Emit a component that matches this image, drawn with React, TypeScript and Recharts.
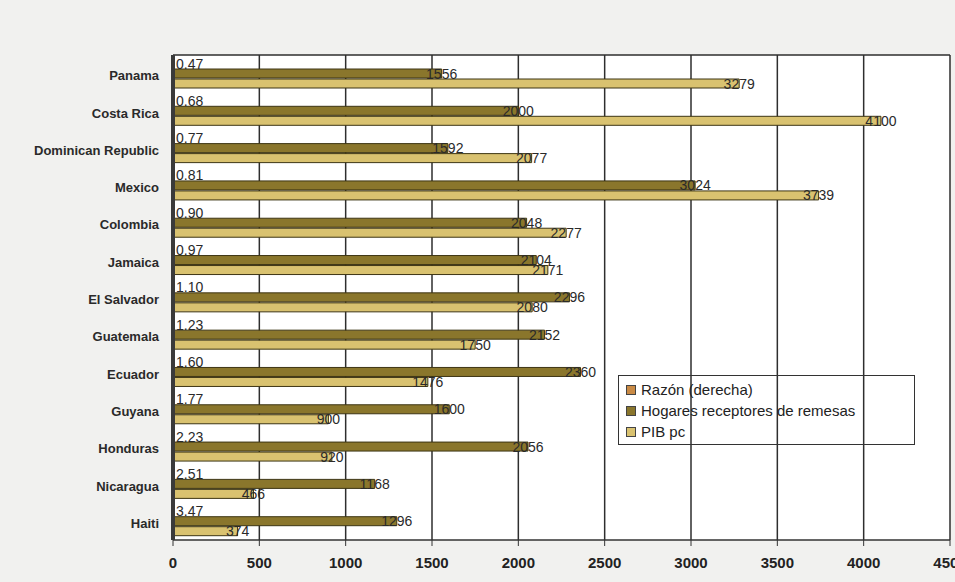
import React from "react";
import {
  Bar,
  BarChart,
  CartesianGrid,
  LabelList,
  XAxis,
  YAxis,
} from "recharts";

const countries = [
  "Panama",
  "Costa Rica",
  "Dominican Republic",
  "Mexico",
  "Colombia",
  "Jamaica",
  "El Salvador",
  "Guatemala",
  "Ecuador",
  "Guyana",
  "Honduras",
  "Nicaragua",
  "Haiti",
];
const razon = [0.47, 0.68, 0.77, 0.81, 0.9, 0.97, 1.1, 1.23, 1.6, 1.77, 2.23, 2.51, 3.47];
const hogares = [1556, 2000, 1592, 3024, 2048, 2104, 2296, 2152, 2360, 1600, 2056, 1168, 1296];
const pib = [3279, 4100, 2077, 3739, 2277, 2171, 2080, 1750, 1476, 900, 920, 466, 374];
const xTicks = [0, 500, 1000, 1500, 2000, 2500, 3000, 3500, 4000, 4500];

const data = countries.map((name, i) => ({
  name,
  razon: razon[i],
  hogares: hogares[i],
  pib: pib[i],
}));

const FONT = "'Liberation Sans', Arial, sans-serif";
const C_RAZON = "#c98a45";
const C_HOG = "#8a762c";
const C_PIB = "#d9c270";
const EDGE = "#3d3514";

const series = [
  { key: "razon", name: "Razón (derecha)", color: C_RAZON },
  { key: "hogares", name: "Hogares receptores de remesas", color: C_HOG },
  { key: "pib", name: "PIB pc", color: C_PIB },
];

// value labels centred over the bar end, like the scanned original
function EndLabel(props: any) {
  const { x, y, width, height, value } = props;
  return (
    <text
      x={x + width}
      y={y + height / 2 + 5}
      textAnchor="middle"
      fontFamily={FONT}
      fontSize={14}
      fill="#2a2a2a"
    >
      {value}
    </text>
  );
}

function RazonLabel(props: any) {
  const { x, y, height, value } = props;
  return (
    <text
      x={x + 3}
      y={y + height / 2 + 5}
      fontFamily={FONT}
      fontSize={14}
      fill="#2a2a2a"
    >
      {Number(value).toFixed(2)}
    </text>
  );
}

function LegendBox() {
  return (
    <div
      style={{
        position: "absolute",
        left: 618,
        top: 375,
        width: 297,
        height: 70,
        border: "1px solid #333",
        boxSizing: "border-box",
        padding: "3px 0 0 7px",
        fontFamily: FONT,
        fontSize: 15,
        color: "#222",
        pointerEvents: "none",
      }}
    >
      {series.map((s) => (
        <div key={s.key} style={{ display: "flex", alignItems: "center", height: 21 }}>
          <span
            style={{
              display: "inline-block",
              width: 8,
              height: 8,
              background: s.color,
              border: "1px solid #444",
              marginRight: 5,
            }}
          />
          {s.name}
        </div>
      ))}
    </div>
  );
}

export default function App() {
  return (
    <div
      style={{
        position: "absolute",
        left: 0,
        top: 0,
        width: 955,
        height: 582,
        background: "#f1f1ef",
      }}
    >
      <BarChart
        width={955}
        height={582}
        data={data}
        layout="vertical"
        margin={{ top: 55, right: 5, bottom: 12, left: 0 }}
        barSize={9}
        barGap={1}
      >
        <CartesianGrid
          fill="#ffffff"
          stroke="#2e2e2e"
          strokeWidth={1.5}
          horizontalPoints={[55]}
        />
        <XAxis
          type="number"
          domain={[0, 4500]}
          ticks={xTicks}
          interval={0}
          height={30}
          axisLine={{ stroke: "#333", strokeWidth: 1.5 }}
          tickLine={{ stroke: "#333" }}
          tickSize={6}
          tick={{ fontFamily: FONT, fontSize: 15, fontWeight: 700, fill: "#222", dy: 9 }}
        />
        <YAxis
          type="category"
          dataKey="name"
          width={173}
          axisLine={{ stroke: "#3a3a3a", strokeWidth: 4 }}
          tickLine={false}
          tick={{ fontFamily: FONT, fontSize: 13, fontWeight: 700, fill: "#2a2a2a", dx: -6, dy: 2 }}
        />
        <Bar
          dataKey="razon"
          name="Razón (derecha)"
          fill={C_RAZON}
          stroke={EDGE}
          isAnimationActive={false}
        >
          <LabelList dataKey="razon" content={<RazonLabel />} />
        </Bar>
        <Bar
          dataKey="hogares"
          name="Hogares receptores de remesas"
          fill={C_HOG}
          stroke={EDGE}
          isAnimationActive={false}
        >
          <LabelList dataKey="hogares" content={<EndLabel />} />
        </Bar>
        <Bar
          dataKey="pib"
          name="PIB pc"
          fill={C_PIB}
          stroke={EDGE}
          isAnimationActive={false}
        >
          <LabelList dataKey="pib" content={<EndLabel />} />
        </Bar>
      </BarChart>
      <LegendBox />
    </div>
  );
}
